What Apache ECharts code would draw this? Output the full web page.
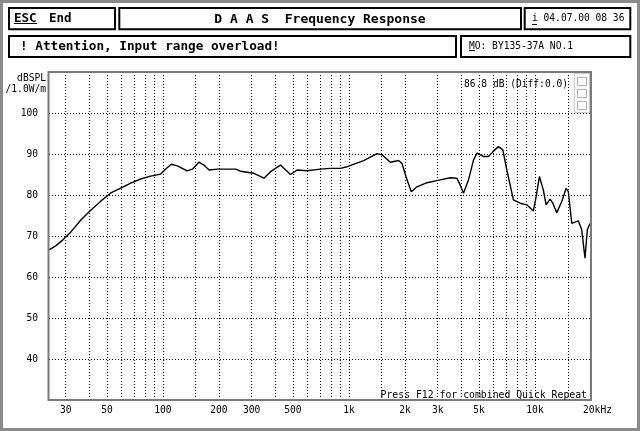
<!DOCTYPE html>
<html><head><meta charset="utf-8">
<script src="https://cdn.jsdelivr.net/npm/echarts@6/dist/echarts.min.js"></script>
<style>html,body{margin:0;padding:0;background:#fff}#c{width:640px;height:431px}</style>
</head><body><div id="c"></div>
<script>
const freqHz = [24.4, 26.5, 28.9, 32.0, 36.2, 40.9, 46.3, 52.4, 59.3, 67.1, 75.9, 85.9, 97.2, 103, 111, 119.5, 135, 144, 156, 166, 177, 196, 246, 261, 308, 349, 379, 428, 485, 527, 596, 702, 795, 899, 977, 1199, 1415, 1506, 1668, 1849, 1928, 2051, 2163, 2321, 2626, 3095, 3503, 3805, 3963, 4128, 4391, 4670, 4871, 5284, 5622, 5980, 6360, 6715, 7056, 7656, 8318, 9036, 9800, 10140, 10560, 11090, 11470, 12050, 12460, 13090, 13930, 14690, 15110, 15760, 17100, 17830, 18570, 19110, 19590, 19930];
const splDb = [66.6, 67.6, 69.0, 71.0, 73.9, 76.3, 78.5, 80.5, 81.7, 82.9, 83.9, 84.6, 85.1, 86.3, 87.5, 87.1, 85.9, 86.3, 88.0, 87.3, 86.1, 86.3, 86.3, 85.8, 85.3, 84.1, 85.7, 87.3, 85.0, 86.1, 85.9, 86.3, 86.5, 86.5, 86.9, 88.4, 90.1, 89.8, 88.0, 88.4, 87.7, 83.7, 80.8, 82.0, 83.0, 83.7, 84.2, 84.1, 82.4, 80.4, 83.7, 88.5, 90.2, 89.4, 89.4, 90.7, 91.8, 91.0, 86.1, 78.8, 78.0, 77.6, 76.1, 79.6, 84.5, 81.2, 77.6, 79.0, 78.0, 75.7, 78.4, 81.6, 80.8, 73.1, 73.7, 71.5, 64.6, 71.5, 72.7, 73.1];
const xLabelValues = [30, 50, 100, 200, 300, 500, 1000, 2000, 3000, 5000, 10000, 20000];
const xLabelTexts = ['30', '50', '100', '200', '300', '500', '1k', '2k', '3k', '5k', '10k', '20kHz'];
const xGridValues = [30, 40, 50, 60, 70, 80, 90, 100, 150, 200, 300, 400, 500, 600, 700, 800, 900, 1000, 1500, 2000, 3000, 4000, 5000, 6000, 7000, 8000, 9000, 10000, 15000];
const yMin = 30, yMax = 110, yStep = 10;

const MONO = '"DejaVu Sans Mono", "Liberation Mono", monospace';
const chart = echarts.init(document.getElementById('c'), null, {renderer: 'canvas'});
const dotted = {color: '#000', width: 1, type: [1, 2]};

function box(x, y, w, h) {
  return {type: 'rect', shape: {x: x, y: y, width: w, height: h}, style: {fill: null, stroke: '#000', lineWidth: 2}, z: 10};
}
function txt(x, y, s, font, align) {
  return {type: 'text', x: x, y: y, style: {text: s, font: font, fill: '#000', textAlign: align || 'left', textVerticalAlign: 'middle'}, z: 11};
}
function hline(x1, x2, y) {
  return {type: 'line', shape: {x1: x1, y1: y, x2: x2, y2: y}, style: {stroke: '#000', lineWidth: 1}, z: 11};
}

const data = freqHz.map((f, i) => [f, splDb[i]]);

chart.setOption({
  animation: false,
  backgroundColor: '#fff',
  grid: {left: 49, top: 72, width: 542, height: 328, show: false},
  xAxis: {
    type: 'log', min: 24.4, max: 20000, logBase: 10,
    axisLine: {show: false}, axisTick: {show: false, customValues: xGridValues},
    splitLine: {show: true, lineStyle: dotted},
    axisLabel: {
      customValues: xLabelValues, margin: 5, color: '#000', fontFamily: MONO, fontSize: 9.6,
      formatter: function (v) {
        const i = xLabelValues.findIndex(a => Math.abs(a - v) / a < 1e-3);
        if (i < 0) return '';
        return i === xLabelValues.length - 1 ? '{u|' + xLabelTexts[i] + '}' : xLabelTexts[i];
      },
      rich: {u: {fontFamily: MONO, fontSize: 9.6, color: '#000', padding: [0, 0, 0, 13]}}
    }
  },
  yAxis: {
    type: 'value', min: yMin, max: yMax, interval: yStep,
    axisLine: {show: false}, axisTick: {show: false},
    splitLine: {show: true, lineStyle: dotted},
    axisLabel: {showMinLabel: false, showMaxLabel: false, margin: 11, color: '#000', fontFamily: MONO, fontSize: 9.6}
  },
  series: [{
    type: 'line', data: data, symbol: 'none', smooth: false,
    lineStyle: {color: '#000', width: 1.4}, z: 5
  }],
  graphic: [
    {type: 'rect', shape: {x: 1.5, y: 1.5, width: 637, height: 428}, style: {fill: null, stroke: '#8a8a8a', lineWidth: 3}, z: 9},
    {type: 'rect', shape: {x: 48.5, y: 72, width: 542.5, height: 328}, style: {fill: null, stroke: '#7a7a7a', lineWidth: 2}, z: 9},
    box(9, 8, 106, 21.3), box(119.3, 8, 401.7, 21.3), box(524.7, 8, 105.6, 21.3),
    box(9, 36, 447, 21), box(461, 36, 169.3, 21),
    txt(14, 18.5, 'ESC', 'bold 12.5px ' + MONO), hline(14, 37, 23.5),
    txt(49, 18.5, 'End', 'bold 12.5px ' + MONO),
    txt(320, 19.5, 'D A A S  Frequency Response', 'bold 13px ' + MONO, 'center'),
    txt(532, 18.5, 'i 04.07.00 08 36', '9.6px ' + MONO), hline(532, 537, 24.5),
    txt(20, 46.5, '! Attention, Input range overload!', 'bold 12.7px ' + MONO),
    txt(469, 46, 'MO: BY135-37A NO.1', '9.6px ' + MONO), hline(469, 475, 50.5),
    txt(46, 78.5, 'dBSPL', '9.6px ' + MONO, 'right'),
    txt(46, 89, '/1.0W/m', '9.6px ' + MONO, 'right'),
    txt(568, 84.5, '86.8 dB (Diff:0.0)', '9.6px ' + MONO, 'right'),
    txt(587, 395.5, 'Press F12 for combined Quick Repeat', '9.8px ' + MONO, 'right'),
    {type: 'rect', shape: {x: 574.5, y: 73.5, width: 15, height: 39}, style: {fill: '#fff', stroke: '#999', lineWidth: 1, lineDash: [1, 1]}, z: 10},
    {type: 'rect', shape: {x: 577.5, y: 77.5, width: 9, height: 8}, style: {fill: null, stroke: '#666', lineWidth: 1, lineDash: [1, 1]}, z: 11},
    {type: 'rect', shape: {x: 577.5, y: 89.5, width: 9, height: 8}, style: {fill: null, stroke: '#666', lineWidth: 1, lineDash: [1, 1]}, z: 11},
    {type: 'rect', shape: {x: 577.5, y: 101.5, width: 9, height: 8}, style: {fill: null, stroke: '#666', lineWidth: 1, lineDash: [1, 1]}, z: 11}
  ]
});
</script></body></html>
